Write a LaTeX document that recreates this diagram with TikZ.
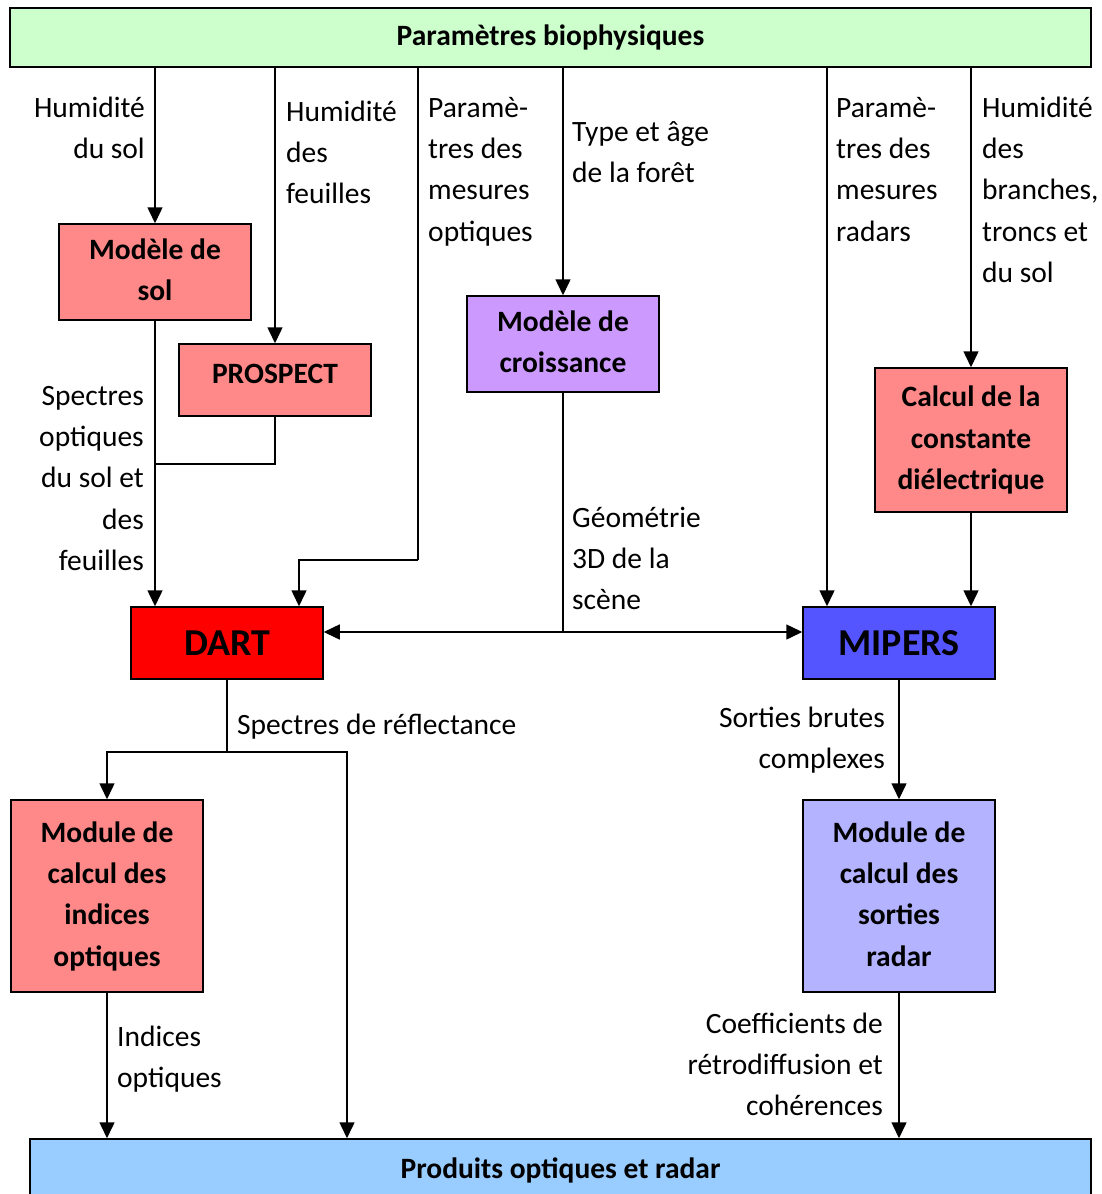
\documentclass[tikz,border=0pt]{standalone}
\usepackage{fontspec}
\setmainfont{Carlito}
\usetikzlibrary{arrows.meta}
\definecolor{cgreen}{HTML}{CCFFCC}
\definecolor{csalmon}{HTML}{FF8888}
\definecolor{clav}{HTML}{CC99FF}
\definecolor{cred}{HTML}{FF0000}
\definecolor{cblue}{HTML}{5555FF}
\definecolor{cpale}{HTML}{B3B3FF}
\definecolor{csky}{HTML}{99CCFF}
\begin{document}
\begin{tikzpicture}[x=1pt,y=-1pt,
  box/.style={draw, line width=1.5pt, inner sep=0pt, minimum width=192pt, align=center,
    font=\fontsize{29.5}{41.3}\selectfont\bfseries},
  bigbox/.style={box, font=\fontsize{38}{44}\selectfont\bfseries},
  lbl/.style={inner sep=0pt, font=\fontsize{29.5}{41.3}\selectfont},
  conn/.style={line width=1.5pt},
  arr/.style={conn, -{Triangle[width=15pt,length=16pt]}}]
\useasboundingbox (0,0) rectangle (1101,1194);
\fill[white] (0,0) rectangle (1101,1194);

% boxes
\node[box, fill=cgreen, minimum width=1081pt, minimum height=59pt] (top) at (550.5,37.5) {Paramètres biophysiques};
\node[box, fill=csalmon, minimum height=96pt] (sol) at (155,272) {\strut Modèle de\\sol\strut};
\node[box, fill=csalmon, minimum height=72pt, text depth=12pt] (prospect) at (275,380) {PROSPECT};
\node[box, fill=clav, minimum height=96pt] (croiss) at (563,344) {\strut Modèle de\\croissance\strut};
\node[box, fill=csalmon, minimum height=144pt] (calc) at (971,440) {\strut Calcul de la\\constante\\diélectrique\strut};
\node[bigbox, fill=cred, minimum height=72pt] (dart) at (227,643) {DART};
\node[bigbox, fill=cblue, minimum height=72pt] (mipers) at (899,643) {MIPERS};
\node[box, fill=csalmon, minimum height=192pt] (modopt) at (107,896) {\strut Module de\\calcul des\\indices\\optiques\strut};
\node[box, fill=cpale, minimum height=192pt] (modrad) at (899,896) {\strut Module de\\calcul des\\sorties\\radar\strut};
\node[box, fill=csky, minimum width=1061pt, minimum height=62pt] (prod) at (560.5,1170) {Produits optiques et radar};

% coordinates
\coordinate (c418) at (418,560);
\coordinate (c827) at (827,300);
\coordinate (pj) at (155,464);
\coordinate (geo) at (563,632);
\coordinate (split) at (227,752);
\coordinate (c347) at (347,752);

% connectors
\draw[arr] (top.south -| sol.north) -- (sol.north);
\draw[arr] (top.south -| prospect.north) -- (prospect.north);
\draw[conn] (top.south -| c418) -- (c418);
\draw[arr] (c418) -| ([xshift=72pt]dart.north);
\draw[arr] (top.south -| croiss.north) -- (croiss.north);
\draw[arr] (top.south -| c827) -- (mipers.north -| c827);
\draw[arr] (top.south -| calc.north) -- (calc.north);
\draw[arr] (sol.south) -- (dart.north -| sol.south);
\draw[conn] (prospect.south) |- (pj);
\draw[conn] (croiss.south) -- (geo);
\draw[arr] (geo) -- (geo -| dart.east);
\draw[arr] (geo) -- (geo -| mipers.west);
\draw[arr] (calc.south) -- (mipers.north -| calc.south);
\draw[conn] (dart.south) -- (split);
\draw[arr] (split) -| (modopt.north);
\draw[arr] (split) -- (c347) -- (c347 |- prod.north);
\draw[arr] (modopt.south) -- (modopt.south |- prod.north);
\draw[arr] (mipers.south) -- (modrad.north);
\draw[arr] (modrad.south) -- (modrad.south |- prod.north);

% labels
\node[lbl, anchor=north east, align=right] (l1) at (145,88.1) {\strut Humidité\\du sol};
\node[lbl, anchor=north west, align=left] (l2) at (286,92.1) {\strut Humidité\\des\\feuilles};
\node[lbl, anchor=north west, align=left] (l3) at (428,88.1) {\strut Paramè-\\tres des\\mesures\\optiques};
\node[lbl, anchor=north west, align=left] (l4) at (572,112.1) {\strut Type et âge\\de la forêt};
\node[lbl, anchor=north west, align=left] (l5) at (836,88.1) {\strut Paramè-\\tres des\\mesures\\radars};
\node[lbl, anchor=north west, align=left] (l6) at (982,88.1) {\strut Humidité\\des\\branches,\\troncs et\\du sol};
\node[lbl, anchor=north east, align=right] (l7) at (144,376.1) {\strut Spectres\\optiques\\du sol et\\des\\feuilles};
\node[lbl, anchor=north west, align=left] (l8) at (572,498.1) {\strut Géométrie\\3D de la\\scène};
\node[lbl, anchor=north west, align=left] (l9) at (237,705.1) {\strut Spectres de réflectance};
\node[lbl, anchor=north east, align=right] (l10) at (885,698.1) {\strut Sorties brutes\\complexes};
\node[lbl, anchor=north west, align=left] (l11) at (117,1017.1) {\strut Indices\\optiques};
\node[lbl, anchor=north east, align=right] (l12) at (883,1004.1) {\strut Coefficients de\\rétrodiffusion et\\cohérences};
\end{tikzpicture}
\end{document}
